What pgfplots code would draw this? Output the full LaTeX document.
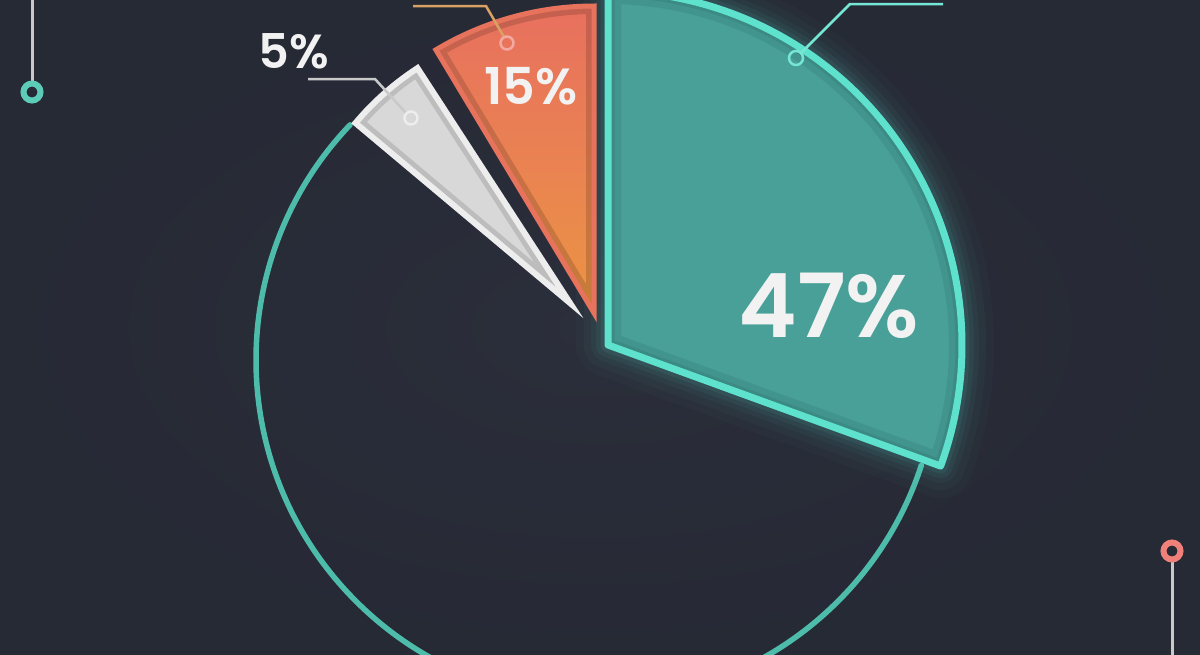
\documentclass[border=0pt]{standalone}
\usepackage{fontspec}
\IfFontExistsTF{Poppins SemiBold}{\newfontfamily\labfont{Poppins SemiBold}}{\newfontfamily\labfont{Poppins}[UprightFont=*,BoldFont=*]\def\labfontb{1}}
\setmainfont{Poppins}
\usepackage{pgfplots}
\pgfplotsset{compat=1.18}
\definecolor{bg}{HTML}{2B2F3B}
\definecolor{bgdark}{HTML}{252833}
\definecolor{tealfill}{HTML}{48A098}
\definecolor{tealline}{HTML}{5EE2CE}
\definecolor{tealcirc}{HTML}{4EBCAB}
\definecolor{tealdark}{HTML}{2A6A66}
\definecolor{salmon}{HTML}{E8705F}
\definecolor{orangec}{HTML}{EB9444}
\definecolor{chalk}{HTML}{D8D8D8}
\definecolor{chalkline}{HTML}{EDEDED}
\definecolor{txt}{HTML}{F2F2F2}
\definecolor{lead}{HTML}{C9C9C9}
\definecolor{pinkring}{HTML}{EF807A}
\definecolor{ringteal}{HTML}{5CCBB7}
\definecolor{tan}{HTML}{D9A263}
\definecolor{lightpink}{HTML}{F3A8A0}
\def\tealpath{(axis cs:608,345) -- ++(90:354bp) arc[start angle=90,end angle=-20,radius=354bp] -- cycle}
\def\salmonpath{(axis cs:594,313) -- ++(90:307bp) arc[start angle=90,end angle=121,radius=307bp] -- cycle}
\def\whitepath{(axis cs:570,303) -- ++(123:280bp) arc[start angle=123,end angle=140,radius=280bp] -- cycle}
\begin{document}
\begin{tikzpicture}
\fill[bg] (0,0) rectangle (1200bp,655bp);
\shade[inner color=bg, outer color=bgdark, opacity=0.7] (0,0) rectangle (1200bp,655bp);
\begin{axis}[x=1bp,y=1bp,xmin=0,xmax=1200,ymin=0,ymax=655,y dir=reverse,
  hide axis, clip=true, at={(0,0)}, anchor=south west]
% remaining part of the pie: outline circle
\draw[tealcirc, line width=5.5bp, line cap=round] (axis cs:597,360) ++(136.4:341bp) arc[start angle=136.4,end angle=342,radius=341bp];
% glow of the 47% slice
\draw[tealline, line width=64bp, opacity=0.025, line join=round] \tealpath;
\draw[tealline, line width=48bp, opacity=0.03, line join=round] \tealpath;
\draw[tealline, line width=34bp, opacity=0.045, line join=round] \tealpath;
\draw[tealline, line width=24bp, opacity=0.06, line join=round] \tealpath;
\draw[tealline, line width=15bp, opacity=0.08, line join=round] \tealpath;
% 47% slice
\fill[tealfill] \tealpath;
\begin{scope}
\clip \tealpath;
\draw[tealdark, line width=26bp, opacity=0.2, line join=round] \tealpath;
\draw[tealdark, line width=13bp, opacity=0.25, line join=round] \tealpath;
\end{scope}
\draw[tealline, line width=7bp, line join=round] \tealpath;
% 15% slice
\shade[top color=salmon, middle color=salmon!85!orangec, bottom color=orangec] \salmonpath;
\begin{scope}
\clip \salmonpath;
\draw[black, line width=16bp, opacity=0.15, line join=round] \salmonpath;
\end{scope}
\draw[salmon!92!orangec, line width=5bp, line join=miter] \salmonpath;
% 5% slice
\fill[chalk] \whitepath;
\begin{scope}
\clip \whitepath;
\draw[black, line width=16bp, opacity=0.12, line join=round] \whitepath;
\end{scope}
\draw[chalkline, line width=6bp, line join=miter] \whitepath;
% leader lines
\addplot[tealline!85!white, line width=2.5bp, no marks] coordinates {(943,4) (850,4) (801,53)};
\addplot[tan, line width=2.5bp, no marks] coordinates {(413,6) (486,6) (504,37)};
\addplot[lead, line width=2.5bp, no marks] coordinates {(308,79) (375,79) (406,113)};
\addplot[lead, line width=3bp, no marks] coordinates {(32,0) (32,82)};
\addplot[lead, line width=3bp, no marks] coordinates {(1172,561) (1172,655)};
% rings
\addplot[only marks, mark=o, mark size=7bp, mark options={tealline!85!white, line width=2.5bp}] coordinates {(796,58)};
\addplot[only marks, mark=o, mark size=6.5bp, mark options={lightpink, line width=2.5bp}] coordinates {(507,43)};
\addplot[only marks, mark=o, mark size=6.5bp, mark options={chalkline, line width=2.5bp}] coordinates {(411,118)};
\addplot[only marks, mark=o, mark size=8.5bp, mark options={ringteal, line width=6bp}] coordinates {(32,92)};
\addplot[only marks, mark=o, mark size=8.5bp, mark options={pinkring, line width=6bp}] coordinates {(1172,551)};
% labels
\node[txt, font=\fontsize{89}{89}\selectfont\labfont, inner sep=0pt] at (axis cs:829,306) {47\%};
\node[txt, font=\fontsize{51}{51}\selectfont\labfont, inner sep=0pt] at (axis cs:531,86) {15\%};
\node[txt, font=\fontsize{48}{48}\selectfont\labfont, inner sep=0pt] at (axis cs:294,51) {5\%};
\end{axis}
\pgfresetboundingbox
\path (0,0) rectangle (1200bp,655bp);
\end{tikzpicture}
\end{document}
